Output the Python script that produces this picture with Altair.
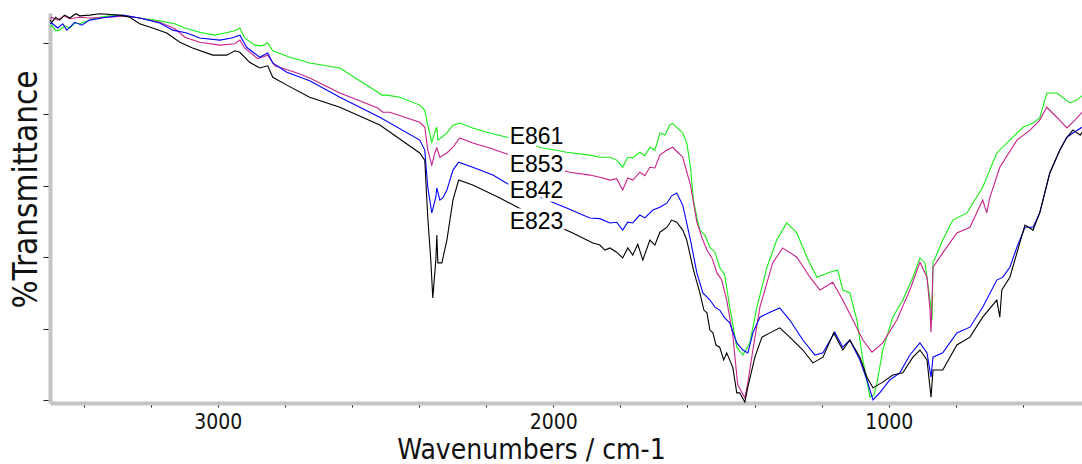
import altair as alt
import pandas as pd

# ---- data (wavenumber cm-1, %T in arbitrary units) ----
wn_e861 = [3500, 3495, 3483, 3471, 3456, 3441, 3426, 3411, 3388, 3367, 3322, 3277, 3233, 3173, 3128, 3098,
           3054, 3009, 2979, 2949, 2934, 2920, 2890, 2869, 2851, 2836, 2785, 2726, 2636, 2523, 2511, 2496,
           2457, 2398, 2383, 2374, 2362, 2353, 2347, 2344, 2332, 2317, 2299, 2279, 2240, 2198, 2138, 2040,
           1960, 1891, 1861, 1831, 1811, 1793, 1778, 1763, 1742, 1727, 1712, 1697, 1682, 1667, 1653, 1644,
           1623, 1614, 1602, 1591, 1582, 1572, 1563, 1548, 1533, 1518, 1504, 1489, 1474, 1453, 1435, 1414,
           1393, 1363, 1334, 1304, 1274, 1244, 1214, 1176, 1152, 1137, 1116, 1095, 1077, 1056, 1044, 1035,
           1018, 988, 958, 928, 907, 892, 877, 871, 868, 839, 809, 767, 720, 678, 639, 600, 570, 550, 529,
           499, 460, 439, 424]
t_e861 = [52.2, 52.5, 51.7, 51.8, 52.4, 52.1, 52.8, 52.7, 53.1, 53.5, 53.8, 53.8, 53.5, 53.1, 52.7, 52.1,
          51.5, 51.1, 51.4, 51.7, 52.1, 50.7, 49.7, 49.6, 50.0, 48.9, 48.0, 47.2, 46.5, 43.1, 42.7, 42.7,
          42.4, 41.3, 40.6, 38.5, 36.1, 37.5, 38.2, 36.4, 36.8, 37.4, 38.5, 38.8, 38.1, 37.5, 36.8, 35.4,
          34.7, 34.3, 34.0, 34.0, 33.6, 32.6, 34.0, 33.9, 34.7, 34.2, 35.4, 35.0, 37.4, 37.1, 38.5, 38.7,
          37.8, 37.4, 36.0, 32.6, 28.0, 25.6, 23.8, 23.1, 21.4, 20.7, 18.6, 17.5, 13.0, 7.4, 6.3, 8.0,
          13.0, 18.6, 22.4, 24.8, 23.4, 20.0, 17.2, 17.9, 18.2, 15.4, 15.0, 11.2, 5.6, 0.4, 0.7, 2.4,
          7.0, 11.6, 14.0, 17.2, 19.9, 19.2, 14.0, 11.2, 19.2, 22.4, 25.2, 26.2, 29.8, 34.6, 36.4, 38.2,
          38.8, 39.5, 43.0, 43.0, 41.6, 42.0, 42.6]

wn_e853 = [3500, 3495, 3477, 3459, 3441, 3411, 3382, 3322, 3277, 3233, 3173, 3128, 3098, 3054, 2994, 2949,
           2934, 2920, 2881, 2851, 2830, 2770, 2726, 2636, 2523, 2508, 2487, 2398, 2383, 2374, 2362, 2353,
           2347, 2338, 2317, 2299, 2279, 2240, 2189, 2130, 1951, 1891, 1861, 1831, 1811, 1793, 1778, 1763,
           1742, 1727, 1712, 1697, 1682, 1661, 1644, 1629, 1614, 1591, 1572, 1554, 1542, 1527, 1512, 1498,
           1483, 1465, 1450, 1438, 1429, 1420, 1405, 1384, 1346, 1316, 1274, 1235, 1205, 1167, 1137, 1107,
           1077, 1050, 1018, 976, 937, 907, 886, 877, 874, 868, 839, 797, 758, 720, 708, 699, 669, 618,
           579, 550, 529, 499, 469, 445, 424]
t_e853 = [53.4, 53.6, 53.2, 53.8, 53.4, 53.6, 53.5, 53.6, 53.8, 53.5, 52.9, 52.0, 50.8, 50.1, 49.7, 49.9,
          50.4, 49.3, 47.8, 48.3, 46.8, 45.9, 45.1, 43.0, 40.9, 40.3, 40.3, 38.9, 38.2, 35.0, 32.9, 34.6,
          35.3, 34.0, 34.6, 35.4, 36.7, 36.0, 35.3, 34.3, 31.9, 31.5, 31.2, 30.8, 31.0, 29.4, 31.1, 30.8,
          31.9, 31.4, 32.6, 32.5, 34.3, 35.0, 35.4, 34.7, 34.0, 30.1, 24.9, 22.4, 21.0, 19.9, 17.8, 16.8,
          14.0, 9.1, 2.1, 1.1, 0.3, 2.4, 7.0, 13.0, 19.2, 21.3, 20.0, 17.2, 15.4, 16.5, 14.0, 11.2,
          8.4, 6.7, 8.0, 11.2, 15.4, 19.3, 17.2, 12.6, 9.5, 18.6, 20.6, 23.4, 24.2, 28.0, 26.2, 28.3, 32.6, 36.4,
          37.8, 39.2, 41.0, 39.6, 38.1, 39.2, 40.3]

wn_e842 = [3500, 3495, 3477, 3462, 3450, 3426, 3405, 3382, 3331, 3283, 3233, 3173, 3134, 3092, 3054, 2994,
           2958, 2934, 2914, 2875, 2851, 2836, 2794, 2726, 2636, 2517, 2398, 2383, 2374, 2362, 2350, 2347,
           2338, 2329, 2317, 2299, 2282, 2240, 2180, 2130, 2019, 1960, 1891, 1861, 1831, 1811, 1793, 1778,
           1763, 1742, 1727, 1703, 1682, 1661, 1647, 1632, 1614, 1591, 1572, 1554, 1533, 1518, 1504, 1489,
           1474, 1453, 1435, 1420, 1405, 1384, 1354, 1325, 1295, 1256, 1220, 1196, 1161, 1137, 1116, 1086,
           1065, 1047, 1027, 997, 967, 937, 907, 886, 874, 868, 839, 797, 758, 720, 678, 660, 639, 618, 594,
           570, 550, 520, 490, 469, 451, 424]
t_e842 = [52.7, 52.8, 52.1, 52.7, 51.8, 52.9, 52.5, 53.2, 53.6, 53.9, 53.5, 52.8, 51.8, 51.4, 50.7, 50.4,
          50.7, 51.1, 49.4, 48.0, 48.6, 47.2, 45.9, 44.7, 42.4, 39.6, 36.4, 35.0, 29.8, 26.2, 28.4, 29.7,
          28.0, 28.3, 29.4, 32.2, 33.3, 32.6, 31.5, 30.1, 28.0, 26.9, 25.5, 25.4, 24.8, 24.9, 23.8, 24.9,
          24.8, 25.9, 25.5, 26.6, 27.0, 27.6, 28.6, 29.0, 27.3, 22.4, 17.8, 15.0, 14.0, 13.0, 12.6, 11.5,
          10.8, 8.0, 7.0, 6.6, 9.4, 11.6, 12.3, 12.9, 11.2, 8.4, 6.3, 6.6, 9.5, 7.4, 8.4, 5.6,
          2.8, 0.0, 1.0, 2.8, 3.8, 6.3, 8.0, 6.6, 3.2, 6.0, 6.6, 9.4, 10.2, 13.0, 16.8, 17.2, 18.6, 21.4, 24.2,
          24.2, 26.2, 31.8, 35.0, 36.8, 37.4, 38.2]

wn_e823 = [3500, 3495, 3483, 3471, 3456, 3441, 3423, 3411, 3382, 3352, 3292, 3262, 3233, 3194, 3152, 3113,
           3075, 3015, 2973, 2949, 2934, 2905, 2875, 2851, 2836, 2794, 2726, 2636, 2517, 2398, 2383, 2374,
           2365, 2359, 2350, 2347, 2344, 2332, 2317, 2299, 2282, 2240, 2159, 2079, 1942, 1882, 1861, 1846,
           1831, 1811, 1793, 1778, 1763, 1748, 1733, 1712, 1697, 1682, 1661, 1647, 1632, 1614, 1602, 1582,
           1563, 1551, 1542, 1533, 1524, 1515, 1504, 1492, 1483, 1465, 1453, 1444, 1429, 1420, 1399, 1378,
           1354, 1325, 1295, 1256, 1226, 1196, 1164, 1137, 1116, 1086, 1065, 1047, 1018, 988, 958, 928, 907,
           886, 874, 868, 839, 797, 758, 720, 678, 669, 663, 639, 618, 594, 570, 550, 520, 490, 469, 451,
           429, 424]
t_e823 = [53.2, 52.9, 53.6, 53.2, 53.9, 53.5, 54.1, 53.8, 53.9, 54.1, 53.9, 53.6, 52.7, 52.1, 51.4, 50.1,
          49.3, 48.3, 48.3, 48.9, 48.7, 47.3, 46.5, 46.8, 45.2, 44.1, 42.4, 41.0, 38.5, 34.6, 33.6, 25.6,
          19.6, 14.3, 19.6, 23.1, 19.2, 19.2, 22.4, 28.0, 30.8, 30.1, 28.3, 26.3, 23.4, 22.0, 21.7, 21.0,
          21.3, 20.7, 19.9, 21.3, 20.3, 21.8, 19.6, 22.4, 21.7, 23.5, 24.2, 25.2, 24.9, 23.8, 22.4, 18.2,
          15.0, 12.6, 12.2, 9.8, 9.4, 7.7, 7.4, 5.6, 6.6, 4.6, 1.0, 1.0, -0.3, 1.8, 6.0, 8.8,
          9.4, 10.1, 8.8, 7.0, 5.2, 6.0, 9.4, 7.0, 8.4, 6.0, 3.2, 1.7, 2.5, 3.5, 3.8, 6.0, 7.0,
          5.6, 0.4, 4.2, 4.2, 7.7, 8.8, 11.6, 14.0, 11.6, 15.4, 17.2, 20.6, 24.5, 23.8, 26.2, 31.8, 35.0, 36.8, 37.8,
          37.1, 37.5]

series_names = ["E861", "E853", "E842", "E823"]
series_colors = ["#14ee14", "#c8228a", "#0000ff", "#000000"]
label_wn = [2130, 2130, 2130, 2130]
label_t = [36.9, 32.9, 29.3, 24.9]

x_ticks = list(range(600, 3401, 200))
y_ticks = [v * 2.5 for v in range(0, 22)]

rows = []
for name, wns, ts in zip(series_names, [wn_e861, wn_e853, wn_e842, wn_e823],
                         [t_e861, t_e853, t_e842, t_e823]):
    for i, (w, t) in enumerate(zip(wns, ts)):
        rows.append({"series": name, "wn": w, "t": t, "idx": i})
df = pd.DataFrame(rows)
labels = pd.DataFrame({"series": series_names, "wn": label_wn, "t": label_t})

AXFONT = "Tahoma, 'DejaVu Sans Condensed', 'Liberation Sans', sans-serif"

xscale = alt.Scale(domain=[424, 3500], reverse=True, nice=False, zero=False)
yscale = alt.Scale(domain=[-0.42, 54.2], nice=False, zero=False)

lines = alt.Chart(df).mark_line(strokeWidth=1.1, clip=True, interpolate="linear").encode(
    x=alt.X("wn:Q", scale=xscale,
            axis=alt.Axis(title="Wavenumbers / cm-1", values=x_ticks,
                          labelExpr="datum.value % 1000 === 0 ? format(datum.value, 'd') : ''",
                          grid=False, domainColor="#c4c4c4", domainWidth=4,
                          tickColor="#222222", tickSize=4, tickWidth=1,
                          labelFont=AXFONT, labelFontSize=21, labelColor="#111111", labelPadding=4,
                          titleFont=AXFONT, titleFontSize=28, titleFontWeight="normal", titleColor="#111111",
                          titleX=481, titleY=55, titleBaseline="alphabetic", titleAlign="center")),
    y=alt.Y("t:Q", scale=yscale,
            axis=alt.Axis(title="%Transmittance", values=y_ticks, labels=False, grid=False,
                          domainColor="#c4c4c4", domainWidth=4, tickColor="#222222", tickWidth=1,
                          tickSize={"condition": {"test": "datum.value % 10 === 0", "value": 7}, "value": 4},
                          titleFont=AXFONT, titleFontSize=33, titleFontWeight="normal", titleColor="#111111",
                          titleAngle=270, titleX=-24, titleY=176, titleBaseline="middle", titleAlign="center")),
    color=alt.Color("series:N", scale=alt.Scale(domain=series_names, range=series_colors), legend=None),
    order=alt.Order("idx:Q"),
)

halo = alt.Chart(labels).mark_text(align="left", baseline="middle", font="Liberation Sans", fontSize=23,
                                   stroke="white", strokeWidth=7, fill="white").encode(
    x=alt.X("wn:Q", scale=xscale), y=alt.Y("t:Q", scale=yscale), text="series:N")
text = alt.Chart(labels).mark_text(align="left", baseline="middle", font="Liberation Sans", fontSize=23,
                                   color="black").encode(
    x=alt.X("wn:Q", scale=xscale), y=alt.Y("t:Q", scale=yscale), text="series:N")

chart = alt.layer(lines, halo, text).properties(
    width=1032, height=390,
    padding={"left": 50, "top": 13, "right": 0, "bottom": 61},
    autosize=alt.AutoSizeParams(type="none"),
    background="white",
).configure_view(stroke=None)

chart.save("out.html", embed_options={"renderer": "svg", "actions": False})
